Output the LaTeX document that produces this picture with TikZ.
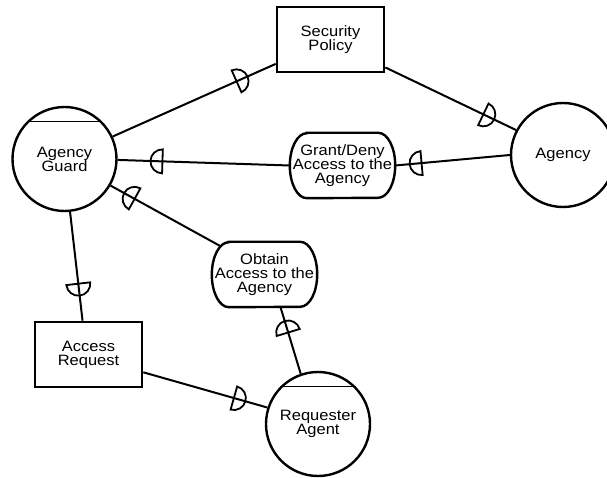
\documentclass[tikz,border=0pt]{standalone}
\usepackage{fontspec}
\setmainfont{Liberation Sans}[FakeStretch=1.1]
\usetikzlibrary{decorations.markings}

\tikzset{
  actor/.style={draw, circle, line width=2.4pt, minimum size=104pt, inner sep=0pt, align=center},
  resource/.style={draw, rectangle, line width=2.6pt, minimum width=107pt, minimum height=65pt, inner sep=0pt, align=center},
  goal/.style={rectangle, minimum width=105pt, minimum height=65pt, inner sep=0pt, align=center},
  dlink/.style={line width=2pt, postaction={decorate, decoration={markings,
      mark=at position #1 with {\draw[line width=1.8pt] (0pt,12pt) arc[start angle=90, end angle=-90, radius=12pt] -- cycle;}}}},
}

% outline of a goal: flat top and bottom, half ellipses at the ends
\newcommand{\goaloutline}[1]{%
  \draw[line width=2.4pt] ([xshift=17pt]#1.north west) -- ([xshift=-17pt]#1.north east)
    arc[start angle=90, end angle=-90, x radius=17pt, y radius=32.5pt]
    -- ([xshift=17pt]#1.south west)
    arc[start angle=270, end angle=90, x radius=17pt, y radius=32.5pt] -- cycle;}

\begin{document}
\begin{tikzpicture}[x=1pt, y=1pt, font=\fontsize{15}{14}\selectfont]
    \useasboundingbox (0,0) rectangle (607,477);

    % Actors and agents
    \node[actor] (ag) at (64.5,318) {Agency\\Guard};
    \node[actor] (agency) at (563,322) {Agency};
    \node[actor] (ra) at (318,53) {Requester\\Agent};
    \draw[line width=1pt] (ag.135) -- (ag.45); % agent line
    \draw[line width=1pt] (ra.135) -- (ra.45); % agent line

    % Resources
    \node[resource] (sp) at (330.5,437.5) {Security\\Policy};
    \node[resource] (ar) at (88.5,122.5) {Access\\Request};

    % Goals
    \node[goal] (gd) at (342.5,311.5) {Grant/Deny\\Access to the\\Agency};
    \node[goal] (obtain) at (264.5,202.5) {Obtain\\Access to the\\Agency};
    \goaloutline{gd}
    \goaloutline{obtain}
    \coordinate (obtain-nw) at ([xshift=8pt,yshift=-4pt]obtain.north west);
    \coordinate (obtain-s) at ([xshift=16pt]obtain.south);

    % Dependency links (the D bulges toward the end point)
    \foreach \from/\to/\t in {ag.25/sp.204/0.76, sp.-27/agency.152/0.75,
        agency.west/gd.east/0.77, gd.west/ag.-1/0.74,
        ag.-84/ar.100/0.66, ar.-18/ra.162/0.73,
        ra.109/obtain-s/0.62, obtain-nw/ag.-30/0.78} {
      \draw[dlink=\t] (\from) -- (\to);
    }
\end{tikzpicture}
\end{document}
